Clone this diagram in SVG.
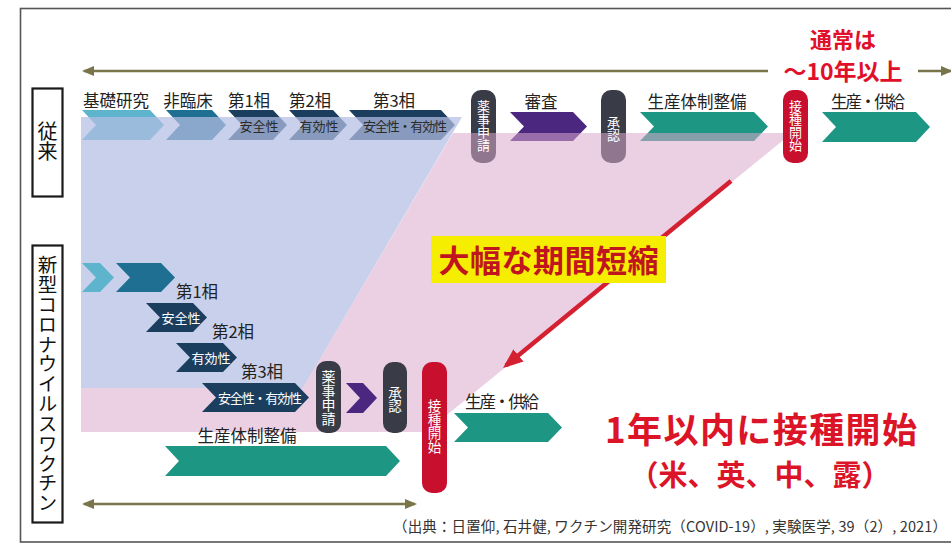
<svg xmlns="http://www.w3.org/2000/svg" width="951" height="547" viewBox="0 0 951 547">
<defs>
<style>
text{font-family:'Noto Sans CJK JP','Noto Sans',sans-serif}
.lbl{font-size:16.5px;fill:#222;text-anchor:middle}
.sub{font-size:13px;fill:#2a2a2a;text-anchor:middle}
.wsub{font-size:13px;fill:#fff;text-anchor:middle}
.vt{font-size:13px;fill:#fff;text-anchor:middle;writing-mode:vertical-rl;text-orientation:upright}
.side{font-size:19.5px;fill:#111;text-anchor:middle;writing-mode:vertical-rl;text-orientation:upright}
.lb{fill:#5fb4cd}
.tb{fill:#1e6f91}
.navy{fill:#1c3e5e}
.pur{fill:#4b2780}
.teal{fill:#1e9684}
.pill{fill:#393b46}
.red{fill:#c8102e}
.box{fill:#fff;stroke:#1a1a1a;stroke-width:2.2}
.olive{stroke:#7a744a;stroke-width:2.5;fill:none}
</style>
<marker id="oh" viewBox="0 0 12 10" markerUnits="userSpaceOnUse" markerWidth="12" markerHeight="10" refX="10" refY="5" orient="auto-start-reverse"><path d="M0,0 L12,5 L0,10 z" fill="#7a744a"/></marker>
<marker id="rh" viewBox="0 0 20 16" markerUnits="userSpaceOnUse" markerWidth="20" markerHeight="16" refX="16" refY="8" orient="auto"><path d="M0,0 L20,8 L0,16 z" fill="#d42030"/></marker>
</defs>
<rect width="951" height="547" fill="#fff"/>
<rect x="20.5" y="8.5" width="950" height="533.5" fill="none" stroke="#555" stroke-width="1.6"/>

<!-- top row (conventional) shapes -->
<g id="conv-kiso"><polygon class="lb" points="82,110 150,110 164,125 150,140 82,140 96,125"/></g>
<g id="conv-hirinsho"><polygon class="tb" points="166,110 212,110 226,125 212,140 166,140 180,125"/></g>
<g id="conv-p1"><polygon class="navy" points="228,110 273,110 287,125 273,140 228,140 242,125"/></g>
<g id="conv-p2"><polygon class="navy" points="289,110 333,110 347,125 333,140 289,140 303,125"/></g>
<g id="conv-p3"><polygon class="navy" points="349,110 441,110 455,125 441,140 349,140 363,125"/></g>
<g id="conv-shinsei"><rect class="pill" x="471" y="90" width="25" height="73" rx="10"/></g>
<g id="conv-shinsa"><polygon class="pur" points="510,112 573,112 587,126.5 573,141 510,141 524,126.5"/></g>
<g id="conv-shonin"><rect class="pill" x="601" y="90" width="25" height="73" rx="10"/></g>
<g id="conv-seisantaisei"><polygon class="teal" points="640,112 754,112 768,126.5 754,141 640,141 654,126.5"/></g>

<!-- overlays -->
<path d="M81,117 L462,117 L303,388 L81,388 Z" fill="#b3bee3" opacity="0.72"/>
<path d="M453,133 L792,133 L426,432 L81,432 L81,388 L303,388 Z" fill="#dba8cc" opacity="0.55"/>

<!-- top row texts -->
<g id="conv-labels">
<text class="lbl" x="116" y="107">基礎研究</text>
<text class="lbl" x="188" y="107">非臨床</text>
<text class="lbl" x="249" y="107">第1相</text>
<text class="lbl" x="310" y="107">第2相</text>
<text class="lbl" x="394" y="107">第3相</text>
<text class="sub" x="259" y="131">安全性</text>
<text class="sub" x="319" y="131">有効性</text>
<text class="sub" x="405" y="131" textLength="84">安全性・有効性</text>
<text class="lbl" x="541" y="108">審査</text>
<text class="lbl" x="697" y="108">生産体制整備</text>
<text class="vt" x="483.5" y="126">薬事申請</text>
<text class="vt" x="613.5" y="128.5">承認</text>
</g>
<g id="conv-sesshu"><rect class="red" x="783" y="90" width="25" height="73" rx="10"/>
<text class="vt" x="795.5" y="126">接種開始</text></g>
<g id="conv-kyokyu"><polygon class="teal" points="822,112 916,112 930,127 916,142 822,142 836,127"/>
<text class="lbl" x="868" y="108" textLength="74">生産・供給</text></g>

<!-- side labels -->
<g id="label-conv"><rect class="box" x="32.5" y="88.5" width="30" height="108"/>
<text class="side" x="47.5" y="141" style="font-size:20px">従来</text></g>
<g id="label-new"><rect class="box" x="32.5" y="245.5" width="30" height="277"/>
<text class="side" x="47.5" y="384" style="letter-spacing:0.35px">新型コロナウイルスワクチン</text></g>

<!-- new vaccine row -->
<g id="new-kiso"><polygon class="lb" points="82,263 100,263 114,277.5 100,292 82,292 96,277.5"/></g>
<g id="new-hirinsho"><polygon class="tb" points="116,263 161,263 175,277.5 161,292 116,292 130,277.5"/></g>
<g id="new-p1"><polygon class="navy" points="146,303 193,303 207,317.5 193,332 146,332 160,317.5"/>
<text class="lbl" x="197" y="298">第1相</text><text class="wsub" x="181" y="323">安全性</text></g>
<g id="new-p2"><polygon class="navy" points="176,343 223,343 237,357.5 223,372 176,372 190,357.5"/>
<text class="lbl" x="233" y="338">第2相</text><text class="wsub" x="211" y="363">有効性</text></g>
<g id="new-p3"><polygon class="navy" points="202,383 295,383 309,397.5 295,412 202,412 216,397.5"/>
<text class="lbl" x="262" y="378">第3相</text><text class="wsub" x="260" y="403" textLength="84">安全性・有効性</text></g>
<g id="new-shinsei"><rect class="pill" x="316" y="361" width="25" height="72" rx="10"/>
<text class="vt" x="328.5" y="398" style="font-size:14px">薬事申請</text></g>
<g id="new-shinsa"><polygon class="pur" points="346,383 363,383 377,398 363,413 346,413 360,398"/></g>
<g id="new-shonin"><rect class="pill" x="383" y="362" width="24" height="71" rx="10"/>
<text class="vt" x="395" y="399.5" style="font-size:13.5px">承認</text></g>
<g id="new-sesshu"><rect class="red" x="422" y="362" width="25" height="131" rx="10"/>
<text class="vt" x="434.5" y="426.5" style="font-size:13.5px">接種開始</text></g>
<g id="new-kyokyu"><polygon class="teal" points="454,413 548,413 562,427.5 548,442 454,442 468,427.5"/>
<text class="lbl" x="502" y="408" textLength="74">生産・供給</text></g>
<g id="new-seisantaisei"><polygon class="teal" points="165,446 386,446 400,461 386,476 165,476 179,461"/>
<text class="lbl" x="247" y="442">生産体制整備</text></g>

<!-- connectors -->
<g id="connectors">
<path class="olive" d="M84,71 L768,71" marker-start="url(#oh)"/>
<path class="olive" d="M918,71 L951,71" marker-end="url(#oh)"/>
<path class="olive" d="M84,504 L415,504" marker-start="url(#oh)" marker-end="url(#oh)"/>
<path d="M731,181 L506.1,365.5" stroke="#d42030" stroke-width="4.5" fill="none" marker-end="url(#rh)"/>
</g>

<g id="note-normal">
<text x="843" y="48" style="font-size:22px;font-weight:bold;fill:#e0102a;text-anchor:middle">通常は</text>
<text x="843" y="80" style="font-size:23px;font-weight:bold;fill:#e0102a;text-anchor:middle" textLength="119">～10年以上</text>
</g>
<g id="note-short"><rect x="431" y="236" width="235" height="47" fill="#f6ee00"/>
<text x="548.5" y="272" style="font-size:31px;font-weight:bold;fill:#c0151f;text-anchor:middle" textLength="220">大幅な期間短縮</text></g>
<g id="note-within">
<text x="761" y="443" style="font-size:35px;font-weight:bold;fill:#dc1428;text-anchor:middle" textLength="312">1年以内に接種開始</text>
<text x="760" y="486" style="font-size:29px;font-weight:bold;fill:#dc1428;text-anchor:middle">（米、英、中、露）</text>
</g>
<text x="393" y="532" style="font-size:14.5px;fill:#333" textLength="554">（出典：日置仰, 石井健, ワクチン開発研究（COVID-19）, 実験医学, 39（2）, 2021）</text>
</svg>
